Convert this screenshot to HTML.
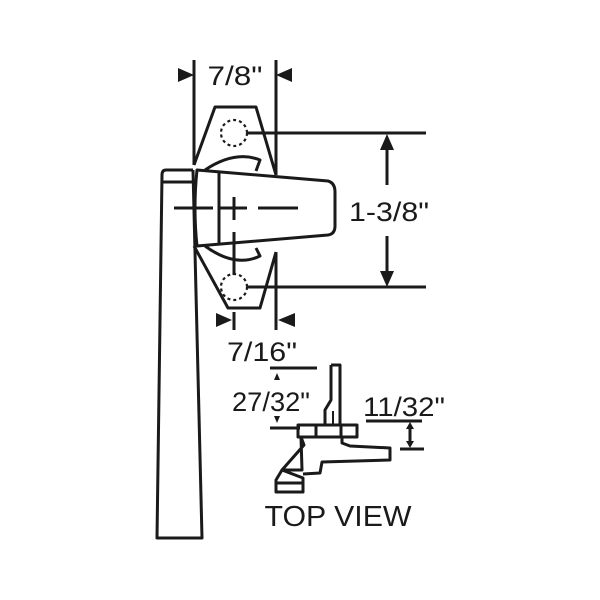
<!DOCTYPE html>
<html><head><style>html,body{margin:0;padding:0;background:#fff}svg{display:block}</style></head>
<body>
<svg width="600" height="600" viewBox="0 0 600 600" xmlns="http://www.w3.org/2000/svg" font-family="Liberation Sans, Arial, sans-serif" fill="none" stroke="#1a1a1a" stroke-width="3" stroke-linejoin="round">
<rect width="600" height="600" fill="#fff" stroke="none"/>
<line x1="194" y1="60" x2="194" y2="165"/>
<line x1="276" y1="60" x2="276" y2="175"/>
<polygon points="178,68 194,75 178,82" fill="#1a1a1a" stroke="none"/>
<polygon points="292,68 276,75 292,82" fill="#1a1a1a" stroke="none"/>
<text x="235" y="85" font-size="27" fill="#1a1a1a" stroke="none" text-anchor="middle" textLength="55" lengthAdjust="spacingAndGlyphs">7/8"</text>
<polyline points="194,165 215,107 256,107 276,175"/>
<circle cx="234" cy="133" r="13" stroke-dasharray="3,3" stroke-width="2.2"/>
<line x1="247" y1="133" x2="426" y2="133"/>
<polyline points="194,246 228,308 260,308 276,252"/>
<circle cx="234" cy="287" r="13" stroke-dasharray="3,3" stroke-width="2.2"/>
<line x1="247" y1="287" x2="426" y2="287"/>
<path d="M205,170 Q235,150 260,160 L256,171"/>
<path d="M205,246 Q235,268 260,256 L256,248"/>
<path d="M193,170 L166,170 Q162,170 162,175 L157,538 L202,538 L193,170"/>
<line x1="162" y1="182" x2="193" y2="182"/>
<path d="M197,170 L328,181 Q335,183 335,192 L335,226 Q335,234 328,235 L197,246 Q193,208 197,170Z" fill="#fff"/>
<line x1="219" y1="172" x2="219" y2="245"/>
<line x1="174" y1="208" x2="213" y2="208"/>
<line x1="220" y1="208" x2="247" y2="208"/>
<line x1="258" y1="208" x2="298" y2="208"/>
<line x1="234" y1="197" x2="234" y2="220"/>
<line x1="234" y1="232" x2="234" y2="275"/>
<line x1="387" y1="150" x2="387" y2="185"/>
<line x1="387" y1="236" x2="387" y2="272"/>
<polygon points="380,150 387,134 394,150" fill="#1a1a1a" stroke="none"/>
<polygon points="380,271 387,287 394,271" fill="#1a1a1a" stroke="none"/>
<text x="389" y="221" font-size="27" fill="#1a1a1a" stroke="none" text-anchor="middle" textLength="80" lengthAdjust="spacingAndGlyphs">1-3/8"</text>
<line x1="234" y1="312" x2="234" y2="330"/>
<line x1="276" y1="252" x2="276" y2="330"/>
<polygon points="216,313 232,320 216,327" fill="#1a1a1a" stroke="none"/>
<polygon points="295,313 278,320 295,327" fill="#1a1a1a" stroke="none"/>
<text x="262" y="361" font-size="27" fill="#1a1a1a" stroke="none" text-anchor="middle" textLength="70" lengthAdjust="spacingAndGlyphs">7/16"</text>
<line x1="270" y1="368" x2="317" y2="368"/>
<line x1="270" y1="428" x2="300" y2="428"/>
<polygon points="274,380 277,373 280,380" fill="#1a1a1a" stroke="none"/>
<polygon points="274,416 277,423 280,416" fill="#1a1a1a" stroke="none"/>
<text x="271" y="411" font-size="27" fill="#1a1a1a" stroke="none" text-anchor="middle" textLength="78" lengthAdjust="spacingAndGlyphs">27/32"</text>
<text x="404" y="416" font-size="27" fill="#1a1a1a" stroke="none" text-anchor="middle" textLength="82" lengthAdjust="spacingAndGlyphs">11/32"</text>
<line x1="366" y1="421" x2="422" y2="421"/>
<line x1="400" y1="449" x2="424" y2="449"/>
<line x1="410" y1="427" x2="410" y2="443"/>
<polygon points="406,429 410,422 414,429" fill="#1a1a1a" stroke="none"/>
<polygon points="406,441 410,448 414,441" fill="#1a1a1a" stroke="none"/>
<path d="M331,365 L340,365 L340,425 M331,365 L331,400 L325,410 L325,425"/>
<line x1="333" y1="411" x2="333" y2="425" stroke-width="2"/>
<rect x="298" y="425" width="59" height="12"/>
<line x1="316" y1="425" x2="316" y2="437"/>
<line x1="341" y1="425" x2="341" y2="437"/>
<path d="M342,437 L342,443 L350,446 L390,448 L390,460 L322,462 L320,473 L303,474"/>
<path d="M301,437 L304,445 L282,470 L302,470 Z"/>
<path d="M282,470 L276,480 L276,492 L303,492 L303,478 Z"/>
<line x1="276" y1="483" x2="303" y2="483"/>
<text x="338" y="526" font-size="29" fill="#1a1a1a" stroke="none" text-anchor="middle" textLength="147" lengthAdjust="spacingAndGlyphs">TOP VIEW</text>
</svg>
</body></html>
